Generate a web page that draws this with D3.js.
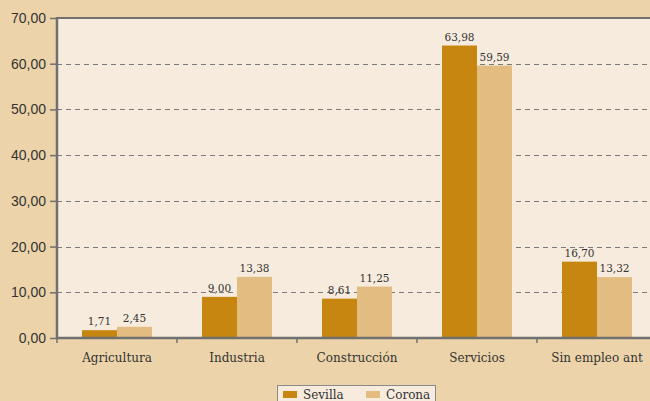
<!DOCTYPE html>
<html>
<head>
<meta charset="utf-8">
<script src="https://cdn.jsdelivr.net/npm/d3@7"></script>
<style>
  body { margin: 0; background: #ecd3aa; }
  svg { display: block; }
</style>
</head>
<body>
<svg id="chart" width="650" height="401"></svg>
<script>
var categories = ['Agricultura', 'Industria', 'Construcción', 'Servicios', 'Sin empleo ant'];
var sevilla = [1.71, 9.00, 8.61, 63.98, 16.70];
var corona = [2.45, 13.38, 11.25, 59.59, 13.32];
var seriesNames = ['Sevilla', 'Corona'];
var yTicks = [0, 10, 20, 30, 40, 50, 60, 70];

var colors = {Sevilla: '#c6860f', Corona: '#e2bc80'};
var fmt = function(d) { return d.toFixed(2).replace('.', ','); };

var margin = {left: 57, top: 18, right: -7, bottom: 63},
    width = 650 - margin.left - margin.right,
    height = 401 - margin.top - margin.bottom;

var svg = d3.select('#chart');
svg.append('rect').attr('width', 650).attr('height', 401).attr('fill', '#ecd3aa');

var g = svg.append('g')
    .attr('transform', 'translate(' + margin.left + ',' + margin.top + ')');

var x = d3.scaleBand().domain(categories).range([0, width]);
var xs = d3.scaleBand().domain(seriesNames).range([0, 70]);
var y = d3.scaleLinear().domain([0, 70]).range([height, 0]);

g.append('rect')
    .attr('width', width).attr('height', height)
    .attr('fill', '#f7ebde');

// grid
g.selectAll('.grid').data(yTicks.filter(function(d){ return d > 0 && d < 70; }))
  .enter().append('line')
    .attr('x1', 0).attr('x2', width)
    .attr('y1', function(d){ return Math.round(y(d)) + 0.5; })
    .attr('y2', function(d){ return Math.round(y(d)) + 0.5; })
    .attr('stroke', '#7a7a7a').attr('stroke-dasharray', '5,4');

// top border
g.append('line').attr('x1', 0).attr('x2', width).attr('y1', 0).attr('y2', 0)
    .attr('stroke', '#707070').attr('stroke-width', 2);

var rows = categories.map(function(c, i){ return {cat: c, Sevilla: sevilla[i], Corona: corona[i]}; });

var grp = g.selectAll('.cat').data(rows).enter().append('g')
    .attr('transform', function(d){ return 'translate(' + (x(d.cat) + 25) + ',0)'; });

grp.selectAll('rect').data(function(d){ return seriesNames.map(function(s){ return {s: s, v: d[s]}; }); })
  .enter().append('rect')
    .attr('x', function(d){ return xs(d.s); })
    .attr('width', xs.bandwidth())
    .attr('y', function(d){ return y(d.v); })
    .attr('height', function(d){ return height - y(d.v); })
    .attr('fill', function(d){ return colors[d.s]; });

grp.selectAll('text').data(function(d){ return seriesNames.map(function(s){ return {s: s, v: d[s]}; }); })
  .enter().append('text')
    .attr('x', function(d){ return xs(d.s) + xs.bandwidth() / 2; })
    .attr('y', function(d){ return y(d.v) - 5; })
    .attr('text-anchor', 'middle')
    .attr('font-family', 'DejaVu Serif').attr('font-size', 10.5)
    .attr('fill', '#333')
    .text(function(d){ return fmt(d.v); });

// y axis
var axisY = d3.axisLeft(y).tickValues(yTicks).tickSize(7).tickPadding(4).tickFormat(fmt);
var $y = g.append('g').call(axisY);
$y.select('.domain').remove();
$y.selectAll('line').attr('stroke', '#707070').attr('stroke-width', 1.5);
$y.selectAll('text').attr('font-family', 'Liberation Sans').attr('font-size', 14).attr('fill', '#333');
g.append('line').attr('x1', 0).attr('x2', 0).attr('y1', -1).attr('y2', height + 1)
    .attr('stroke', '#707070').attr('stroke-width', 2.5);

// x axis
var $x = g.append('g').attr('transform', 'translate(0,' + height + ')');
$x.append('line').attr('x1', 0).attr('x2', width).attr('y1', 0).attr('y2', 0)
    .attr('stroke', '#707070').attr('stroke-width', 2.5);
$x.selectAll('.tk').data(categories).enter().append('line')
    .attr('x1', function(d){ return x(d); }).attr('x2', function(d){ return x(d); })
    .attr('y1', 0).attr('y2', 5)
    .attr('stroke', '#707070').attr('stroke-width', 1.5);
$x.selectAll('.lbl').data(categories).enter().append('text')
    .attr('x', function(d){ return x(d) + x.bandwidth() / 2; })
    .attr('y', 24)
    .attr('text-anchor', 'middle')
    .attr('font-family', 'DejaVu Serif').attr('font-size', 12)
    .attr('fill', '#333')
    .text(function(d){ return d; });

// legend
var lg = svg.append('g').attr('transform', 'translate(277,385)');
lg.append('rect').attr('x', 0.5).attr('y', 0.5).attr('width', 158).attr('height', 20)
    .attr('fill', '#f7ebde').attr('stroke', '#8a8a8a');
var li = lg.selectAll('.li').data(seriesNames).enter().append('g')
    .attr('transform', function(d, i){ return 'translate(' + (6 + i * 83) + ',0)'; });
li.append('rect').attr('y', 6).attr('width', 14).attr('height', 7)
    .attr('fill', function(d){ return colors[d]; });
li.append('text').attr('x', 20).attr('y', 14)
    .attr('font-family', 'DejaVu Serif').attr('font-size', 12).attr('fill', '#333')
    .text(function(d){ return d; });
</script>
</body>
</html>
